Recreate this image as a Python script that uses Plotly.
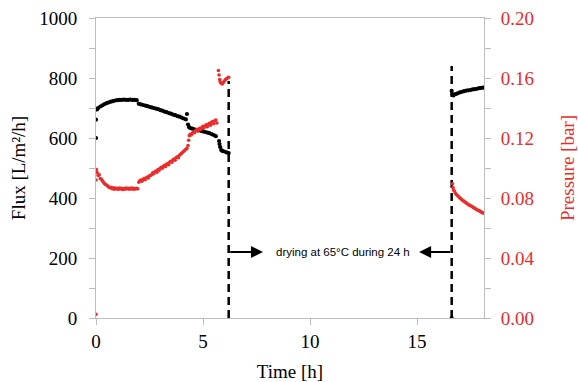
import plotly.graph_objects as go

# ---- data ----
t_flux_a = [0.0, 0.0, 0.05, 0.1, 0.2, 0.3, 0.4, 0.5, 0.6, 0.7, 0.8, 0.9, 1.0, 1.1, 1.2, 1.3, 1.4, 1.5,
            1.6, 1.7, 1.8, 1.9, 2.0, 2.1, 2.2, 2.3, 2.4, 2.5, 2.6, 2.7, 2.8, 2.9, 3.0, 3.1, 3.2, 3.3,
            3.4, 3.5, 3.6, 3.7, 3.8, 3.9, 4.0, 4.1, 4.2, 4.25, 4.3, 4.35, 4.4, 4.5, 4.6, 4.7, 4.8,
            4.9, 5.0, 5.1, 5.2, 5.3, 5.4, 5.5, 5.6, 5.75, 5.77, 5.8, 5.85, 5.9, 6.0, 6.1, 6.2]
flux_a = [661, 600, 695, 700, 705, 709, 713, 716, 719, 721, 723, 725, 726, 727, 727, 728, 727, 727,
          728, 727, 727, 726, 714, 712, 710, 708, 706, 704, 702, 700, 698, 696, 693, 691, 688, 686,
          683, 681, 678, 676, 673, 671, 668, 665, 662, 680, 645, 636, 633, 631, 629, 627, 626,
          624, 622, 620, 618, 616, 613, 610, 606, 590, 580, 570, 560, 557, 555, 552, 550]

t_flux_b = [16.62, 16.62, 16.65, 16.7, 16.8, 16.9, 17.0, 17.1, 17.2, 17.3, 17.4, 17.5, 17.6, 17.7,
            17.8, 17.9, 18.0, 18.1]
flux_b = [0, 757, 746, 742, 746, 749, 752, 754, 756, 758, 759, 760, 762, 763, 764, 766, 767, 768]

t_pres_a = [0.0, 0.0, 0.02, 0.05, 0.1, 0.15, 0.2, 0.25, 0.3, 0.35, 0.4, 0.45, 0.5, 0.55, 0.6, 0.65,
            0.7, 0.75, 0.8, 0.85, 0.9, 0.95, 1.0, 1.05, 1.1, 1.15, 1.2, 1.25, 1.3, 1.35, 1.4, 1.45,
            1.5, 1.55, 1.6, 1.65, 1.7, 1.75, 1.8, 1.85, 1.9, 1.95, 2.0, 2.05, 2.1, 2.15, 2.2, 2.25,
            2.3, 2.35, 2.4, 2.45, 2.5, 2.55, 2.6, 2.65, 2.7, 2.75, 2.8, 2.85, 2.9, 2.95, 3.0, 3.05,
            3.1, 3.15, 3.2, 3.25, 3.3, 3.35, 3.4, 3.45, 3.5, 3.55, 3.6, 3.65, 3.7, 3.75, 3.8, 3.85,
            3.9, 3.95, 4.0, 4.05, 4.1, 4.15, 4.2, 4.25, 4.3, 4.33, 4.36, 4.4, 4.45, 4.5, 4.55, 4.6,
            4.65, 4.7, 4.75, 4.8, 4.85, 4.9, 4.95, 5.0, 5.05, 5.1, 5.15, 5.2, 5.25, 5.3, 5.35, 5.4,
            5.45, 5.5, 5.55, 5.6, 5.65, 5.72, 5.75, 5.78, 5.8, 5.85, 5.9, 5.95, 6.0, 6.05, 6.1, 6.15, 6.2]
pres_a = [0.0025, 0.092, 0.099, 0.097, 0.095, 0.0955, 0.093, 0.0925, 0.0915, 0.0905, 0.0895, 0.089,
          0.0885, 0.088, 0.0872, 0.0868, 0.0872, 0.0862, 0.0868, 0.0858, 0.0866, 0.0860, 0.0864,
          0.0858, 0.0866, 0.0860, 0.0865, 0.0857, 0.0863, 0.0859, 0.0866, 0.0861, 0.0865, 0.0858,
          0.0864, 0.0860, 0.0866, 0.0859, 0.0863, 0.0860, 0.0865, 0.0861, 0.0905, 0.0915, 0.0920,
          0.0912, 0.0925, 0.0930, 0.0922, 0.0935, 0.0940, 0.0933, 0.0948, 0.0950, 0.0955, 0.0968,
          0.0962, 0.0975, 0.0980, 0.0972, 0.0990, 0.0985, 0.0998, 0.1005, 0.0998, 0.1012, 0.1018,
          0.1010, 0.1025, 0.1030, 0.1022, 0.1040, 0.1045, 0.1038, 0.1055, 0.1060, 0.1052, 0.1070,
          0.1075, 0.1068, 0.1085, 0.1092, 0.1098, 0.1105, 0.1112, 0.1118, 0.1125, 0.1132,
          0.1150, 0.1185, 0.1215, 0.1225, 0.1220, 0.1232, 0.1240, 0.1235, 0.1248, 0.1255, 0.1245,
          0.1260, 0.1265, 0.1255, 0.1270, 0.1278, 0.1268, 0.1282, 0.1288, 0.1275, 0.1292, 0.1298,
          0.1285, 0.1305, 0.1310, 0.1295, 0.1315, 0.1320, 0.1300, 0.1650, 0.1620, 0.1590, 0.1575,
          0.1565, 0.1560, 0.1570, 0.1580, 0.1590, 0.1595, 0.1600, 0.1605]

t_pres_b = [16.66, 16.68, 16.7, 16.75, 16.8, 16.85, 16.9, 16.95, 17.0, 17.05, 17.1, 17.15, 17.2,
            17.25, 17.3, 17.35, 17.4, 17.45, 17.5, 17.55, 17.6, 17.65, 17.7, 17.75, 17.8, 17.85,
            17.9, 17.95, 18.0, 18.05, 18.1]
pres_b = [0.0895, 0.0870, 0.0855, 0.0845, 0.0830, 0.0822, 0.0815, 0.0808, 0.0800, 0.0795, 0.0788,
          0.0782, 0.0778, 0.0772, 0.0766, 0.0762, 0.0757, 0.0752, 0.0748, 0.0745, 0.0740, 0.0735,
          0.0731, 0.0727, 0.0722, 0.0718, 0.0715, 0.0711, 0.0706, 0.0702, 0.0700]

dry_start, dry_end = 6.2, 16.62
dry_start_top, dry_end_top = 790, 840
arrow_level = 220
arrow_tip_right, arrow_tip_left = 7.8, 15.1
note_x = 11.52
note_text = "drying at 65°C during 24 h"

x_ticks = [0, 5, 10, 15]
flux_ticks = [0, 200, 400, 600, 800, 1000]
pres_ticks = [0.0, 0.04, 0.08, 0.12, 0.16, 0.20]

RED = "rgb(236,43,43)"
GRID = "#bdbdbd"
SERIF = "Liberation Serif, Times New Roman, serif"

fig = go.Figure()

fig.add_trace(go.Scatter(x=[dry_start, dry_start], y=[0, dry_start_top], mode="lines",
                         line=dict(color="black", width=2.5, dash="8px,5px"), showlegend=False))
fig.add_trace(go.Scatter(x=[dry_end, dry_end], y=[0, dry_end_top], mode="lines",
                         line=dict(color="black", width=2.5, dash="8px,5px"), showlegend=False))

fig.add_trace(go.Scatter(x=t_pres_a + t_pres_b, y=pres_a + pres_b, yaxis="y2", mode="markers",
                         marker=dict(color=RED, size=3.6), showlegend=False))
fig.add_trace(go.Scatter(x=t_flux_a + t_flux_b, y=flux_a + flux_b, mode="markers",
                         marker=dict(color="black", size=4.2), showlegend=False))

for tip, tail in [(arrow_tip_right, dry_start), (arrow_tip_left, dry_end)]:
    fig.add_annotation(x=tip, y=arrow_level, ax=tail, ay=arrow_level, xref="x", yref="y",
                       axref="x", ayref="y", text="", showarrow=True, arrowhead=2,
                       arrowsize=1.2, arrowwidth=2, arrowcolor="black")
fig.add_annotation(x=note_x, y=arrow_level, xref="x", yref="y", text=note_text, showarrow=False,
                   font=dict(family="Liberation Sans, Arial, sans-serif", size=11.5, color="black"))

fig.update_layout(
    width=578, height=382,
    margin=dict(l=96, r=94, t=18, b=64),
    plot_bgcolor="white", paper_bgcolor="white",
    font=dict(family=SERIF, size=19, color="black"),
    xaxis=dict(range=[0, 18.13], tickvals=x_ticks, ticks="outside", ticklen=6, tickcolor=GRID,
               showline=True, linecolor=GRID, linewidth=1, mirror=True, showgrid=False,
               zeroline=False, automargin=False,
               title=dict(text="Time [h]", font=dict(size=19), standoff=14),
               tickfont=dict(size=19)),
    yaxis=dict(range=[0, 1000], tickvals=flux_ticks, ticks="outside", ticklen=6, tickcolor=GRID,
               minor=dict(dtick=100, ticks="outside", ticklen=6, tickcolor=GRID),
               showline=True, linecolor=GRID, linewidth=1, showgrid=False, zeroline=False,
               automargin=False, ticklabelstandoff=8,
               title=dict(text="Flux [L/m²/h]", font=dict(size=19), standoff=8),
               tickfont=dict(size=19)),
    yaxis2=dict(range=[0, 0.2], tickvals=pres_ticks, tickformat=".2f", overlaying="y",
                side="right", ticks="outside", ticklen=6, tickcolor=GRID,
                minor=dict(dtick=0.02, ticks="outside", ticklen=6, tickcolor=GRID),
                showline=True, linecolor=GRID, linewidth=1, showgrid=False, zeroline=False,
                automargin=False, ticklabelstandoff=6,
                title=dict(text="Pressure [bar]", font=dict(size=19, color=RED), standoff=30),
                tickfont=dict(size=19, color=RED)),
)

fig.write_html("out.html", config={"displayModeBar": False},
               post_script="document.body.style.margin='0';")
